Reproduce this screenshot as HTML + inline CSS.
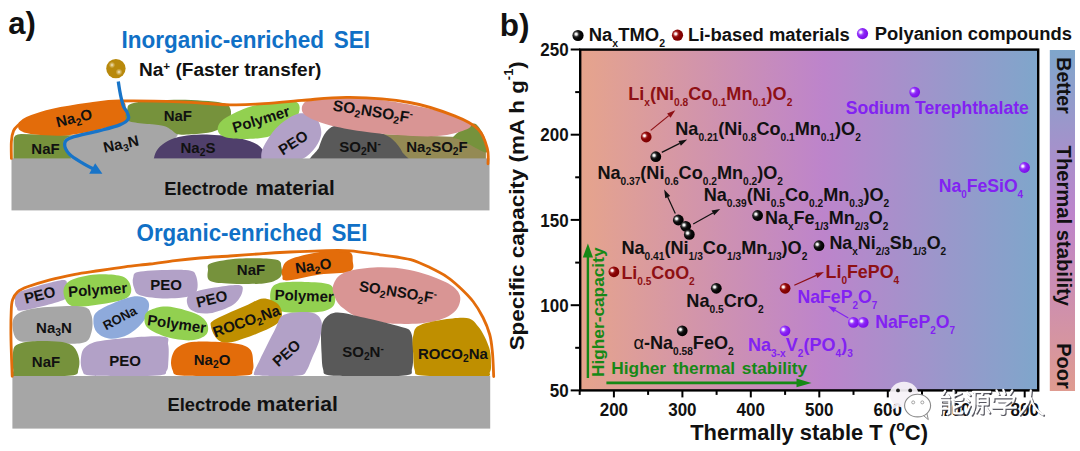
<!DOCTYPE html>
<html><head><meta charset="utf-8"><title>SEI and thermal stability</title>
<style>
html,body{margin:0;padding:0;background:#fff;}
body{width:1080px;height:451px;overflow:hidden;font-family:"Liberation Sans",sans-serif;}
svg{display:block;font-family:"Liberation Sans",sans-serif;font-weight:bold;}
.b{fill:#111;}
.lb{fill:#111;text-anchor:middle;}
.tk{font-size:15.5px;fill:#111;}
</style></head><body>
<svg width="1080" height="451" viewBox="0 0 1080 451">
<defs>
<linearGradient id="gh" x1="0" y1="0" x2="1" y2="0">
<stop offset="0" stop-color="#e6a48c"/><stop offset="0.53" stop-color="#bd84cb"/><stop offset="1" stop-color="#7fa6cb"/>
</linearGradient>
<linearGradient id="gv" x1="0" y1="0" x2="0" y2="1">
<stop offset="0" stop-color="#7fa6cb"/><stop offset="0.48" stop-color="#bd84cb"/><stop offset="1" stop-color="#df9b90"/>
</linearGradient>
<radialGradient id="sK" cx="0.34" cy="0.38" r="0.62"><stop offset="0" stop-color="#fff"/><stop offset="0.14" stop-color="#f0f0f0"/><stop offset="0.36" stop-color="#3a3a3a"/><stop offset="0.55" stop-color="#0c0c0c"/><stop offset="1" stop-color="#000"/></radialGradient>
<radialGradient id="sR" cx="0.34" cy="0.38" r="0.62"><stop offset="0" stop-color="#fff"/><stop offset="0.14" stop-color="#fbeaea"/><stop offset="0.36" stop-color="#a82a2a"/><stop offset="0.55" stop-color="#8b0505"/><stop offset="1" stop-color="#7d0000"/></radialGradient>
<radialGradient id="sP" cx="0.34" cy="0.38" r="0.62"><stop offset="0" stop-color="#fff"/><stop offset="0.14" stop-color="#f3e6ff"/><stop offset="0.36" stop-color="#a050ff"/><stop offset="0.55" stop-color="#8a22f5"/><stop offset="1" stop-color="#7c10ea"/></radialGradient>
<radialGradient id="hl"><stop offset="0" stop-color="#fff" stop-opacity="0.85"/><stop offset="0.45" stop-color="#fff3d0" stop-opacity="0.45"/><stop offset="1" stop-color="#fff" stop-opacity="0"/></radialGradient>
</defs>
<rect width="1080" height="451" fill="#fff"/>

<!-- ============ PANEL A ============ -->
<g id="panelA">
<text x="8.2" y="34" font-size="31" class="b">a)</text>
<text x="121.5" y="47.8" font-size="24" fill="#1070c6" textLength="248.5" lengthAdjust="spacingAndGlyphs" xml:space="preserve">Inorganic-enriched <tspan font-size="13"> </tspan>SEI</text>
<text x="136.5" y="240.6" font-size="24" fill="#1070c6" textLength="231" lengthAdjust="spacingAndGlyphs" xml:space="preserve">Organic-enriched <tspan font-size="13"> </tspan>SEI</text>
<g>
<path d="M13.5,162.3 L13.5,139.9 Q13.5,133.9 21.0,133.9 L77.8,135.4 L77.8,162.3 Z" fill="#76923c"/>
<path d="M78.4,169.8C64.9,168.2 73.0,161.3 70.6,157.2C68.2,153.1 64.5,148.6 64.1,145.3C63.7,141.9 62.5,139.6 68.2,136.9C74.0,134.2 89.0,131.8 98.8,129.1C108.6,126.4 118.7,121.8 127.2,120.7C135.7,119.7 142.9,122.0 149.7,122.8C156.4,123.7 162.9,123.9 167.6,125.8C172.3,127.7 178.6,130.7 177.8,134.5C177.1,138.2 167.4,142.9 163.1,148.2C158.8,153.6 166.2,163.2 152.1,166.8C137.9,170.4 92.0,171.4 78.4,169.8Z" fill="#a6a6a6"/>
<path d="M18.6,124.9C19.6,122.8 21.1,120.8 26.9,118.3C32.8,115.8 43.4,112.3 53.9,109.9C64.4,107.5 78.6,105.4 89.8,103.9C101.0,102.5 115.2,100.0 121.2,101.0C127.2,102.0 125.1,106.5 125.7,109.9C126.4,113.3 129.6,118.1 125.1,121.3C120.6,124.6 108.7,127.0 98.8,129.4C88.9,131.7 76.3,134.5 65.9,135.4C55.4,136.2 43.4,135.2 35.9,134.5C28.4,133.7 23.8,132.5 21.0,130.9C18.1,129.3 17.6,127.0 18.6,124.9Z" fill="#e36c0a"/>
<path d="M127.2,109.9C128.2,106.9 126.0,104.4 134.7,102.7C143.4,101.1 165.1,99.8 179.6,99.8C194.1,99.8 213.0,101.2 221.5,102.7C230.0,104.3 229.2,106.4 230.5,109.3C231.7,112.3 231.0,117.1 229.0,120.4C227.0,123.8 222.8,127.2 218.5,129.4C214.3,131.5 210.0,132.4 203.5,133.3C197.1,134.1 185.1,135.1 179.6,134.5C174.1,133.8 173.6,130.9 170.6,129.4C167.6,127.9 168.6,126.9 161.6,125.5C154.7,124.1 134.5,123.6 128.7,121.0C123.0,118.4 126.2,113.0 127.2,109.9Z" fill="#76923c"/>
<path d="M153.6,169.8C135.3,167.9 153.1,161.9 153.9,158.4C154.6,154.9 155.7,151.8 158.0,148.8C160.4,145.9 164.1,142.9 168.2,140.8C172.3,138.7 176.7,137.3 182.6,136.3C188.5,135.2 195.1,134.4 203.5,134.5C212.0,134.6 225.0,135.5 233.5,136.9C242.0,138.3 249.4,140.6 254.4,142.9C259.4,145.2 261.7,148.0 263.4,150.6C265.1,153.2 264.6,155.2 264.6,158.4C264.6,161.6 281.9,167.9 263.4,169.8C244.9,171.7 171.8,171.7 153.6,169.8Z" fill="#4f3f6b"/>
<path d="M217.6,129.1C217.8,126.6 218.5,123.5 222.1,120.4C225.7,117.4 233.2,113.5 239.5,110.8C245.8,108.1 252.8,105.7 259.8,104.2C266.8,102.7 275.5,102.3 281.4,101.9C287.2,101.4 291.8,100.7 294.8,101.6C297.9,102.4 299.4,104.1 299.6,106.9C299.9,109.7 298.9,114.5 296.3,118.3C293.8,122.1 289.2,126.6 284.4,129.7C279.5,132.8 273.9,135.3 267.3,136.9C260.7,138.4 251.2,138.8 244.9,139.0C238.5,139.2 233.0,138.7 229.0,138.1C225.0,137.4 222.8,136.6 220.9,135.1C219.0,133.6 217.4,131.5 217.6,129.1Z" fill="#92d050"/>
<path d="M379.7,133.9 L457.5,136.9 L485.9,150.3 L485.9,162.3 L379.7,162.3 Z" fill="#948a54"/>
<path d="M453.0,137.5C453.5,135.8 458.5,131.7 462.0,129.4C465.5,127.0 470.7,123.2 474.0,123.4C477.2,123.7 479.4,127.6 481.4,130.9C483.5,134.1 485.4,139.3 486.2,142.9C487.0,146.5 489.0,152.2 486.2,152.4C483.4,152.7 474.0,146.6 469.5,144.4C464.9,142.2 461.7,140.4 459.0,139.3C456.2,138.1 452.5,139.1 453.0,137.5Z" fill="#76923c"/>
<path d="M313.8,166.8C299.4,163.6 316.8,153.2 318.9,147.4C321.0,141.5 323.1,135.2 326.4,131.5C329.6,127.7 333.0,125.5 338.4,124.9C343.7,124.3 351.6,126.5 358.7,127.9C365.8,129.3 375.4,131.3 381.2,133.3C386.9,135.3 389.6,136.8 393.1,139.9C396.6,143.0 400.1,147.4 402.1,151.8C404.1,156.3 419.8,164.3 405.1,166.8C390.4,169.3 328.2,170.0 313.8,166.8Z" fill="#595959"/>
<path d="M261.4,153.3C261.9,149.3 264.4,144.6 267.4,139.9C270.4,135.1 274.2,129.3 279.4,124.9C284.6,120.5 292.9,114.8 298.8,113.5C304.8,112.3 311.6,114.3 315.3,117.4C319.1,120.6 321.3,127.4 321.3,132.4C321.3,137.4 318.6,142.9 315.3,147.4C312.1,151.8 307.6,156.3 301.8,159.3C296.1,162.3 287.1,164.6 280.9,165.3C274.7,166.1 267.7,165.8 264.4,163.8C261.2,161.8 260.9,157.3 261.4,153.3Z" fill="#b2a1c7"/>
<path d="M301.8,108.4C301.9,105.7 303.3,102.1 307.8,100.4C312.3,98.6 320.8,98.5 328.8,98.0C336.8,97.5 346.2,97.0 355.7,97.4C365.2,97.8 374.7,98.8 385.7,100.4C396.6,102.0 410.6,104.6 421.6,106.9C432.5,109.3 443.3,111.4 451.5,114.4C459.7,117.4 470.0,121.9 471.0,124.9C472.0,127.9 463.7,130.5 457.5,132.4C451.3,134.3 443.5,135.8 433.5,136.3C423.6,136.7 409.6,135.9 397.6,135.1C385.7,134.2 373.2,132.9 361.7,131.2C350.2,129.5 337.9,127.3 328.8,124.9C319.7,122.5 311.7,119.3 307.2,116.5C302.7,113.8 301.7,111.1 301.8,108.4Z" fill="#d99594"/>
</g>
<rect x="11.5" y="158.4" width="478" height="52" fill="#a6a6a6"/>
<text x="164.3" y="195.3" font-size="18.4" class="b" textLength="83.7" lengthAdjust="spacingAndGlyphs">Electrode</text><text x="255.5" y="195.3" font-size="20.6" class="b" textLength="79.2" lengthAdjust="spacingAndGlyphs">material</text>
<path d="M11.4,158.4C11.4,155.6 11.0,146.0 11.4,141.4C11.7,136.8 12.3,133.6 13.5,130.9C14.7,128.1 16.3,127.0 18.6,124.9C20.8,122.8 21.1,120.8 26.9,118.3C32.8,115.8 43.4,112.3 53.9,109.9C64.4,107.5 78.8,105.4 89.8,103.9C100.8,102.5 104.8,101.3 119.7,101.0C134.7,100.6 161.2,101.2 179.6,101.9C198.0,102.5 216.5,104.5 229.9,104.8C243.3,105.2 247.9,104.7 259.9,103.9C271.9,103.2 286.9,101.5 301.8,100.4C316.8,99.3 331.8,97.0 349.7,97.4C367.7,97.7 392.1,99.4 409.6,102.5C427.1,105.5 443.0,111.4 454.5,115.9C466.0,120.4 473.0,123.9 478.4,129.4C483.9,134.9 485.8,143.1 487.4,148.8C489.0,154.6 487.9,161.3 488.0,163.8" fill="none" stroke="#e36c0a" stroke-width="2.8" stroke-linecap="round"/>
<path d="M118.3,81.6C118.5,83.0 119.1,87.1 119.6,90.0C120.1,92.9 120.7,96.2 121.4,99.0C122.1,101.8 122.8,104.8 123.8,107.0C124.8,109.2 126.5,110.5 127.2,112.5C128.0,114.5 129.5,116.9 128.3,119.0C127.1,121.1 124.7,122.9 119.7,124.9C114.8,126.9 106.8,128.8 98.8,130.9C90.8,133.0 77.5,135.4 71.8,137.5C66.2,139.6 65.1,140.7 64.7,143.5C64.3,146.3 66.3,150.8 69.4,154.2C72.6,157.6 79.5,161.2 83.8,163.8C88.1,166.4 93.3,168.8 95.2,169.8" fill="none" stroke="#1874c8" stroke-width="3.3"/>
<path d="M102.4,173.7 L95.2,163.2 L89.2,173.7 Z" fill="#1874c8"/>
<circle cx="115.9" cy="68.6" r="9.7" fill="#b8890c"/><circle cx="112" cy="65" r="3.2" fill="url(#hl)"/><circle cx="119" cy="72" r="3.4" fill="url(#hl)"/>
<text x="139" y="75.5" font-size="18" class="b" textLength="182.4" lengthAdjust="spacingAndGlyphs">Na<tspan font-size="11" dy="-6">+</tspan><tspan dy="6"> (Faster transfer)</tspan></text>
<text x="75.3" y="123" class="lb" font-size="15" transform="rotate(-14 75.3 123)">Na<tspan font-size="10.3" dy="3.2">2</tspan><tspan dy="-3.2">&#8203;</tspan>O</text>
<text x="45.5" y="153.8" class="lb" font-size="15">NaF</text>
<text x="122" y="149" class="lb" font-size="15" transform="rotate(-12 122 149)">Na<tspan font-size="10.3" dy="3.2">3</tspan><tspan dy="-3.2">&#8203;</tspan>N</text>
<text x="177.8" y="120.6" class="lb" font-size="15">NaF</text>
<text x="198" y="153" class="lb" font-size="15">Na<tspan font-size="10.3" dy="3.2">2</tspan><tspan dy="-3.2">&#8203;</tspan>S</text>
<text x="262.5" y="124.3" class="lb" font-size="15" transform="rotate(-17 262.5 124.3)">Polymer</text>
<text x="296" y="147" class="lb" font-size="15" transform="rotate(-33 296 147)">PEO</text>
<text x="372" y="116.7" class="lb" font-size="15.5" transform="rotate(9 372 116.7)">SO<tspan font-size="10.3" dy="3.2">2</tspan><tspan dy="-3.2">&#8203;</tspan>NSO<tspan font-size="10.3" dy="3.2">2</tspan><tspan dy="-3.2">&#8203;</tspan>F<tspan font-size="10" dy="-5.5">-</tspan></text>
<text x="360" y="152" class="lb" font-size="15">SO<tspan font-size="10.3" dy="3.2">2</tspan><tspan dy="-3.2">&#8203;</tspan>N<tspan font-size="10" dy="-5.5">-</tspan></text>
<text x="437" y="152" class="lb" font-size="15">Na<tspan font-size="10.3" dy="3.2">2</tspan><tspan dy="-3.2">&#8203;</tspan>SO<tspan font-size="10.3" dy="3.2">2</tspan><tspan dy="-3.2">&#8203;</tspan>F</text>
<g>
<path d="M15.0,299.9C15.2,297.4 10.5,295.6 18.0,292.4C25.4,289.1 51.6,281.7 59.9,280.4C68.1,279.2 66.3,281.9 67.4,284.9C68.4,287.9 73.7,294.1 66.5,298.4C59.2,302.6 32.3,308.8 23.9,310.3C15.6,311.8 18.0,309.1 16.5,307.4C15.0,305.6 14.7,302.4 15.0,299.9Z" fill="#b2a1c7"/>
<path d="M63.5,292.4C63.2,288.1 65.0,283.4 70.3,280.4C75.7,277.4 87.1,275.1 95.8,274.4C104.5,273.8 116.8,274.3 122.7,276.5C128.6,278.8 130.6,284.3 131.1,287.9C131.6,291.5 131.1,295.6 125.7,298.4C120.3,301.1 107.8,303.1 98.8,304.4C89.8,305.6 77.7,307.8 71.8,305.9C66.0,303.9 63.7,296.6 63.5,292.4Z" fill="#92d050"/>
<path d="M133.2,277.4C134.3,274.7 132.0,272.7 140.7,271.4C149.4,270.2 176.4,269.2 185.6,269.9C194.8,270.7 194.6,271.9 196.1,275.9C197.6,279.9 199.3,290.1 194.6,293.9C189.8,297.6 176.6,298.1 167.6,298.4C158.6,298.6 146.3,297.1 140.7,295.4C135.1,293.6 135.3,290.9 134.1,287.9C132.9,284.9 132.1,280.2 133.2,277.4Z" fill="#b2a1c7"/>
<path d="M187.1,298.4C188.1,295.1 189.3,293.1 197.6,290.9C205.8,288.6 229.0,284.9 236.5,284.9C244.0,284.9 243.0,287.6 242.5,290.9C242.0,294.1 239.0,300.6 233.5,304.4C228.0,308.1 216.5,312.3 209.5,313.3C202.5,314.3 195.3,312.8 191.6,310.3C187.8,307.8 186.1,301.6 187.1,298.4Z" fill="#b2a1c7"/>
<path d="M208.0,269.9C208.3,267.1 205.8,265.2 211.0,263.3C216.3,261.5 228.7,259.2 239.5,258.6C250.2,257.9 268.4,258.1 275.4,259.5C282.4,260.9 280.6,263.9 281.4,266.9C282.1,269.9 282.9,274.7 279.9,277.4C276.9,280.2 272.1,282.4 263.4,283.4C254.7,284.4 236.5,283.9 227.5,283.4C218.5,282.9 212.8,282.7 209.5,280.4C206.3,278.2 207.8,272.8 208.0,269.9Z" fill="#76923c"/>
<path d="M282.4,268.4C283.6,265.7 283.6,262.2 289.9,259.5C296.1,256.7 310.1,253.3 319.8,252.0C329.5,250.6 342.7,249.9 348.2,251.4C353.7,252.9 352.5,257.6 352.7,261.0C353.0,264.3 355.2,269.2 349.7,271.4C344.2,273.7 330.3,272.9 319.8,274.4C309.3,275.9 293.1,280.2 286.9,280.4C280.6,280.7 283.1,277.9 282.4,275.9C281.6,273.9 281.1,271.2 282.4,268.4Z" fill="#e36c0a"/>
<path d="M270.4,292.4C271.2,288.4 272.2,285.1 277.9,283.4C283.6,281.7 296.4,281.8 304.8,281.9C313.3,282.1 323.8,282.3 328.8,284.3C333.8,286.3 334.0,290.3 334.8,293.9C335.5,297.5 335.8,302.9 333.3,305.9C330.8,308.8 327.0,310.7 319.8,311.8C312.6,312.9 297.6,313.2 289.9,312.4C282.1,311.7 276.6,310.7 273.4,307.4C270.2,304.0 269.7,296.4 270.4,292.4Z" fill="#92d050"/>
<path d="M333.3,284.9C334.8,280.9 337.0,275.8 343.7,272.9C350.5,270.0 362.7,268.0 373.7,267.5C384.7,267.0 397.6,267.5 409.6,269.9C421.6,272.3 437.1,277.7 445.5,281.9C453.9,286.1 458.4,290.4 459.9,295.4C461.4,300.4 458.9,307.5 454.5,311.8C450.1,316.2 443.0,319.4 433.5,321.4C424.1,323.4 409.6,324.3 397.6,323.8C385.7,323.3 370.9,321.2 361.7,318.4C352.5,315.7 346.7,310.9 342.3,307.4C337.8,303.8 336.3,300.6 334.8,296.9C333.3,293.1 331.8,288.9 333.3,284.9Z" fill="#d99594"/>
<path d="M211.0,326.8C210.5,323.3 209.3,323.1 215.5,319.3C221.8,315.6 240.5,307.8 248.4,304.4C256.4,300.9 258.4,298.4 263.4,298.4C268.4,298.4 275.4,301.1 278.4,304.4C281.4,307.6 282.9,313.8 281.4,317.8C279.9,321.8 277.4,324.3 269.4,328.3C261.4,332.3 242.0,339.8 233.5,341.8C225.0,343.8 222.3,342.8 218.5,340.3C214.8,337.8 211.5,330.3 211.0,326.8Z" fill="#bf8f00"/>
<path d="M93.4,320.8C93.6,317.1 93.4,314.1 98.8,310.3C104.2,306.6 118.5,300.6 125.7,298.4C133.0,296.1 138.3,295.9 142.2,296.9C146.1,297.9 148.8,300.4 149.1,304.4C149.3,308.3 147.1,315.8 143.7,320.8C140.3,325.8 134.2,331.3 128.7,334.3C123.2,337.3 116.0,339.0 110.8,338.8C105.5,338.5 100.2,335.8 97.3,332.8C94.4,329.8 93.1,324.6 93.4,320.8Z" fill="#8eaadb"/>
<path d="M144.6,317.8C144.8,314.8 145.8,312.2 149.7,310.3C153.5,308.4 160.1,306.0 167.6,306.5C175.1,307.0 188.1,310.7 194.6,313.3C201.1,316.0 204.5,318.8 206.5,322.3C208.5,325.8 209.0,331.3 206.5,334.3C204.0,337.3 198.1,339.8 191.6,340.3C185.1,340.8 174.9,339.3 167.6,337.3C160.4,335.3 152.0,331.5 148.2,328.3C144.3,325.1 144.3,320.8 144.6,317.8Z" fill="#92d050"/>
<path d="M12.6,326.8C12.3,322.6 12.6,317.9 16.5,314.8C20.4,311.7 25.2,309.6 35.9,308.2C46.6,306.9 71.6,305.4 80.8,306.5C90.0,307.5 89.6,310.4 91.3,314.8C93.0,319.2 93.0,328.1 91.3,332.8C89.6,337.5 90.0,341.8 80.8,343.3C71.6,344.8 46.4,342.3 35.9,341.8C25.4,341.3 21.9,342.8 18.0,340.3C14.1,337.8 12.8,331.0 12.6,326.8Z" fill="#a6a6a6"/>
<path d="M13.2,350.8C14.0,346.4 14.7,345.8 18.0,344.2C21.3,342.6 25.9,341.6 32.9,341.2C39.9,340.8 53.1,340.9 59.9,341.8C66.6,342.7 70.1,343.8 73.3,346.6C76.5,349.3 78.2,354.4 79.0,358.2C79.9,362.0 79.3,366.5 78.4,369.3C77.5,372.2 79.2,374.2 73.6,375.3C68.0,376.4 54.8,376.0 44.9,376.2C35.0,376.4 19.7,377.5 14.4,376.5C9.1,375.5 13.4,374.5 13.2,370.2C13.0,365.9 12.4,355.1 13.2,350.8Z" fill="#76923c"/>
<path d="M80.8,359.7C81.3,355.7 81.3,350.4 85.3,347.2C89.3,343.9 92.0,342.1 104.8,340.3C117.5,338.5 151.1,335.6 161.6,336.4C172.2,337.1 167.1,340.1 168.2,344.8C169.3,349.4 168.5,359.8 168.2,364.2C167.9,368.6 167.7,369.3 166.4,371.1C165.1,373.0 168.2,374.5 160.4,375.3C152.7,376.1 131.7,376.2 119.7,376.2C107.8,376.2 94.8,376.1 88.6,375.3C82.4,374.5 83.9,373.7 82.6,371.1C81.3,368.5 80.4,363.7 80.8,359.7Z" fill="#b2a1c7"/>
<path d="M171.2,359.7C172.0,355.9 173.3,350.8 177.2,347.8C181.1,344.8 185.2,342.5 194.6,341.8C203.9,341.0 224.3,342.0 233.5,343.3C242.7,344.5 246.7,346.0 249.9,349.3C253.2,352.5 252.8,359.2 253.2,362.7C253.7,366.3 253.6,368.4 252.6,370.5C251.6,372.6 254.4,374.4 247.3,375.3C240.1,376.2 221.0,376.2 209.5,376.2C198.1,376.2 184.5,376.2 178.4,375.3C172.3,374.4 173.9,373.1 172.7,370.5C171.5,367.9 170.5,363.5 171.2,359.7Z" fill="#e36c0a"/>
<path d="M253.9,373.2C254.3,370.6 256.4,367.0 259.9,359.7C263.4,352.5 270.9,337.3 274.9,329.8C278.9,322.3 277.9,317.7 283.9,314.8C289.9,311.9 304.6,311.4 310.8,312.4C317.1,313.4 319.8,316.4 321.3,320.8C322.8,325.2 321.4,332.3 319.8,338.8C318.2,345.3 313.6,354.4 311.4,359.7C309.2,365.0 308.4,367.9 306.6,370.5C304.8,373.1 305.9,374.4 300.6,375.3C295.4,376.2 282.1,376.2 274.9,376.2C267.7,376.2 261.0,375.8 257.5,375.3C254.0,374.8 253.5,375.8 253.9,373.2Z" fill="#b2a1c7"/>
<path d="M321.3,329.8C322.0,323.8 323.0,320.7 325.8,317.8C328.5,314.9 331.3,312.4 337.8,312.4C344.2,312.4 354.2,315.4 364.7,317.8C375.2,320.2 392.9,324.3 400.6,326.8C408.4,329.3 409.0,328.3 411.1,332.8C413.2,337.3 413.0,347.8 413.2,353.7C413.3,359.7 413.1,365.1 412.0,368.7C410.9,372.3 414.5,374.1 406.6,375.3C398.7,376.5 377.7,376.2 364.7,376.2C351.7,376.2 335.7,376.4 328.8,375.3C321.8,374.2 324.3,372.9 323.1,369.3C321.9,365.7 321.9,360.3 321.6,353.7C321.3,347.2 320.6,335.8 321.3,329.8Z" fill="#595959"/>
<path d="M413.2,335.8C414.6,330.9 413.2,327.4 421.6,324.4C430.0,321.4 454.0,317.4 463.5,317.8C473.0,318.2 474.2,321.8 478.4,326.8C482.7,331.8 487.1,341.3 489.2,347.8C491.3,354.2 490.9,361.6 491.0,365.7C491.1,369.8 490.6,370.5 489.8,372.3C489.0,374.1 492.6,375.8 486.2,376.5C479.8,377.2 462.6,376.7 451.5,376.5C440.4,376.3 425.9,376.4 419.8,375.3C413.6,374.2 415.8,373.5 414.7,369.9C413.6,366.3 413.4,359.4 413.2,353.7C412.9,348.1 411.8,340.7 413.2,335.8Z" fill="#bf8f00"/>
</g>
<rect x="12.4" y="376" width="477.8" height="52.6" fill="#a6a6a6"/>
<text x="167.4" y="411.4" font-size="18.4" class="b" textLength="83.7" lengthAdjust="spacingAndGlyphs">Electrode</text><text x="256.6" y="411.4" font-size="20.8" class="b" textLength="81.2" lengthAdjust="spacingAndGlyphs">material</text>
<path d="M12.2,376.3C12.0,370.2 11.2,350.7 11.0,340.0C10.8,329.3 10.9,318.7 11.2,312.0C11.4,305.3 11.4,303.3 12.5,300.0C13.6,296.7 15.0,294.2 17.5,292.0C20.0,289.8 22.1,288.8 27.5,286.8C32.9,284.8 42.1,281.9 50.0,279.8C57.9,277.7 66.7,275.9 75.0,274.3C83.3,272.8 91.7,271.8 100.0,270.5C108.3,269.2 116.7,267.9 125.0,266.8C133.3,265.7 141.7,265.0 150.0,264.0C158.3,263.0 166.7,261.6 175.0,260.6C183.3,259.6 190.8,258.8 200.0,258.0C209.2,257.2 220.0,256.7 230.0,256.0C240.0,255.3 250.0,254.5 260.0,253.8C270.0,253.1 280.0,252.5 290.0,252.0C300.0,251.5 310.0,251.0 320.0,250.8C330.0,250.6 340.0,250.1 350.0,250.8C360.0,251.5 372.2,253.8 380.0,254.8C387.8,255.8 391.1,256.1 396.6,257.0C402.1,257.9 407.6,258.5 413.2,260.3C418.8,262.1 424.3,264.9 429.9,267.6C435.4,270.3 441.5,273.3 446.5,276.6C451.5,279.9 455.4,283.4 459.8,287.5C464.2,291.6 469.2,296.5 473.1,301.5C477.0,306.5 480.2,312.0 483.0,317.5C485.8,323.0 488.1,328.8 489.7,334.5C491.3,340.2 491.7,345.0 492.4,352.0C493.1,359.0 493.5,372.4 493.7,376.5" fill="none" stroke="#e36c0a" stroke-width="2.8" stroke-linecap="round"/>
<text x="41" y="300" class="lb" font-size="15" transform="rotate(-14 41 300)">PEO</text>
<text x="98" y="295" class="lb" font-size="15" transform="rotate(-4 98 295)">Polymer</text>
<text x="166" y="290" class="lb" font-size="15">PEO</text>
<text x="213" y="304" class="lb" font-size="15" transform="rotate(-14 213 304)">PEO</text>
<text x="251" y="275" class="lb" font-size="15">NaF</text>
<text x="314" y="271" class="lb" font-size="15" transform="rotate(-8 314 271)">Na<tspan font-size="10.3" dy="3.2">2</tspan><tspan dy="-3.2">&#8203;</tspan>O</text>
<text x="304" y="301" class="lb" font-size="15" transform="rotate(2 304 301)">Polymer</text>
<text x="397" y="297" class="lb" font-size="15" transform="rotate(9 397 297)">SO<tspan font-size="10.3" dy="3.2">2</tspan><tspan dy="-3.2">&#8203;</tspan>NSO<tspan font-size="10.3" dy="3.2">2</tspan><tspan dy="-3.2">&#8203;</tspan>F<tspan font-size="10" dy="-5.5">-</tspan></text>
<text x="54" y="333" class="lb" font-size="15">Na<tspan font-size="10.3" dy="3.2">3</tspan><tspan dy="-3.2">&#8203;</tspan>N</text>
<text x="122" y="322" class="lb" font-size="13" transform="rotate(-28 122 322)">RONa</text>
<text x="176" y="329" class="lb" font-size="15" transform="rotate(8 176 329)">Polymer</text>
<text x="248" y="326" class="lb" font-size="15" transform="rotate(-19 248 326)">ROCO<tspan font-size="10.3" dy="3.2">2</tspan><tspan dy="-3.2">&#8203;</tspan>Na</text>
<text x="46" y="367" class="lb" font-size="15">NaF</text>
<text x="125" y="366" class="lb" font-size="15">PEO</text>
<text x="212" y="365" class="lb" font-size="15">Na<tspan font-size="10.3" dy="3.2">2</tspan><tspan dy="-3.2">&#8203;</tspan>O</text>
<text x="290" y="357" class="lb" font-size="15" transform="rotate(-42 290 357)">PEO</text>
<text x="363" y="357" class="lb" font-size="15">SO<tspan font-size="10.3" dy="3.2">2</tspan><tspan dy="-3.2">&#8203;</tspan>N<tspan font-size="10" dy="-5.5">-</tspan></text>
<text x="453" y="359" class="lb" font-size="15">ROCO<tspan font-size="10.3" dy="3.2">2</tspan><tspan dy="-3.2">&#8203;</tspan>Na</text>
</g>

<!-- ============ PANEL B ============ -->
<g id="panelB">
<text x="499.8" y="36.2" font-size="31.5" class="b">b)</text>
<rect x="580.2" y="49.6" width="458" height="340.8" fill="url(#gh)"/>
<rect x="1049.8" y="50" width="25.2" height="341" fill="url(#gv)"/>
<rect x="580.2" y="49.6" width="458" height="340.8" fill="none" stroke="#000" stroke-width="2.4"/>
<line x1="570.7" y1="390.4" x2="580.2" y2="390.4" stroke="#000" stroke-width="2"/>
<line x1="575.2" y1="347.8" x2="580.2" y2="347.8" stroke="#000" stroke-width="2"/>
<line x1="570.7" y1="305.2" x2="580.2" y2="305.2" stroke="#000" stroke-width="2"/>
<line x1="575.2" y1="262.6" x2="580.2" y2="262.6" stroke="#000" stroke-width="2"/>
<line x1="570.7" y1="219.9" x2="580.2" y2="219.9" stroke="#000" stroke-width="2"/>
<line x1="575.2" y1="177.3" x2="580.2" y2="177.3" stroke="#000" stroke-width="2"/>
<line x1="570.7" y1="134.7" x2="580.2" y2="134.7" stroke="#000" stroke-width="2"/>
<line x1="575.2" y1="92.1" x2="580.2" y2="92.1" stroke="#000" stroke-width="2"/>
<line x1="570.7" y1="49.5" x2="580.2" y2="49.5" stroke="#000" stroke-width="2"/>
<line x1="579.7" y1="390.4" x2="579.7" y2="394.9" stroke="#000" stroke-width="2"/>
<line x1="613.9" y1="390.4" x2="613.9" y2="397.4" stroke="#000" stroke-width="2"/>
<line x1="648.1" y1="390.4" x2="648.1" y2="394.9" stroke="#000" stroke-width="2"/>
<line x1="682.4" y1="390.4" x2="682.4" y2="397.4" stroke="#000" stroke-width="2"/>
<line x1="716.6" y1="390.4" x2="716.6" y2="394.9" stroke="#000" stroke-width="2"/>
<line x1="750.8" y1="390.4" x2="750.8" y2="397.4" stroke="#000" stroke-width="2"/>
<line x1="785.1" y1="390.4" x2="785.1" y2="394.9" stroke="#000" stroke-width="2"/>
<line x1="819.3" y1="390.4" x2="819.3" y2="397.4" stroke="#000" stroke-width="2"/>
<line x1="853.5" y1="390.4" x2="853.5" y2="394.9" stroke="#000" stroke-width="2"/>
<line x1="887.8" y1="390.4" x2="887.8" y2="397.4" stroke="#000" stroke-width="2"/>
<line x1="922.0" y1="390.4" x2="922.0" y2="394.9" stroke="#000" stroke-width="2"/>
<line x1="956.2" y1="390.4" x2="956.2" y2="397.4" stroke="#000" stroke-width="2"/>
<line x1="990.5" y1="390.4" x2="990.5" y2="394.9" stroke="#000" stroke-width="2"/>
<line x1="1024.7" y1="390.4" x2="1024.7" y2="397.4" stroke="#000" stroke-width="2"/>
<text x="568.6" y="397.0" font-size="18" fill="#111" text-anchor="end" textLength="18.9" lengthAdjust="spacingAndGlyphs">50</text>
<text x="568.6" y="311.8" font-size="18" fill="#111" text-anchor="end" textLength="28.35" lengthAdjust="spacingAndGlyphs">100</text>
<text x="568.6" y="226.5" font-size="18" fill="#111" text-anchor="end" textLength="28.35" lengthAdjust="spacingAndGlyphs">150</text>
<text x="568.6" y="141.3" font-size="18" fill="#111" text-anchor="end" textLength="28.35" lengthAdjust="spacingAndGlyphs">200</text>
<text x="568.6" y="56.1" font-size="18" fill="#111" text-anchor="end" textLength="28.35" lengthAdjust="spacingAndGlyphs">250</text>
<text x="613.9" y="415.8" font-size="18" fill="#111" text-anchor="middle" textLength="28.4" lengthAdjust="spacingAndGlyphs">200</text>
<text x="682.4" y="415.8" font-size="18" fill="#111" text-anchor="middle" textLength="28.4" lengthAdjust="spacingAndGlyphs">300</text>
<text x="750.8" y="415.8" font-size="18" fill="#111" text-anchor="middle" textLength="28.4" lengthAdjust="spacingAndGlyphs">400</text>
<text x="819.3" y="415.8" font-size="18" fill="#111" text-anchor="middle" textLength="28.4" lengthAdjust="spacingAndGlyphs">500</text>
<text x="887.8" y="415.8" font-size="18" fill="#111" text-anchor="middle" textLength="28.4" lengthAdjust="spacingAndGlyphs">600</text>
<text x="956.2" y="415.8" font-size="18" fill="#111" text-anchor="middle" textLength="28.4" lengthAdjust="spacingAndGlyphs">700</text>
<text x="1024.7" y="415.8" font-size="18" fill="#111" text-anchor="middle" textLength="28.4" lengthAdjust="spacingAndGlyphs">800</text>
<text x="690.2" y="439.6" font-size="22.3" fill="#111" textLength="237.8" lengthAdjust="spacingAndGlyphs">Thermally stable T (<tspan font-size="14.5" dy="-9">o</tspan><tspan dy="9">C)</tspan></text>
<text transform="translate(524 350.3) rotate(-90)" font-size="21" fill="#111" textLength="289" lengthAdjust="spacingAndGlyphs">Specific capacity (mA h g<tspan font-size="12" dy="-11.5">-1</tspan><tspan dy="11.5">)</tspan></text>
<circle cx="578" cy="35.5" r="5.6" fill="url(#sK)"/>
<text x="588.8" y="40.6" font-size="17.6" fill="#111" textLength="76.2" lengthAdjust="spacingAndGlyphs">Na<tspan font-size="10" dy="6">x</tspan><tspan dy="-6">TMO</tspan><tspan font-size="10" dy="6">2</tspan></text>
<circle cx="677.5" cy="35.2" r="5.6" fill="url(#sR)"/>
<text x="688" y="40.6" font-size="17.6" fill="#111" textLength="161.8" lengthAdjust="spacingAndGlyphs">Li-based materials</text>
<circle cx="862.5" cy="33.6" r="5.6" fill="url(#sP)"/>
<text x="874.8" y="39.6" font-size="17.6" fill="#111" textLength="197.2" lengthAdjust="spacingAndGlyphs">Polyanion compounds</text>
<text transform="translate(1056.9 57.3) rotate(90)" font-size="20" fill="#111" textLength="56.5" lengthAdjust="spacingAndGlyphs">Better</text>
<text transform="translate(1056.9 145.6) rotate(90)" font-size="20" fill="#111" textLength="160.5" lengthAdjust="spacingAndGlyphs" xml:space="preserve">Thermal stability</text>
<text transform="translate(1056.9 343.2) rotate(90)" font-size="20" fill="#111" textLength="45.5" lengthAdjust="spacingAndGlyphs">Poor</text>
<line x1="587.9" y1="378" x2="587.9" y2="255" stroke="#168816" stroke-width="2.4"/>
<path d="M587.9,243.5 L593,257.5 L582.8,257.5 Z" fill="#168816"/>
<line x1="606.4" y1="382.9" x2="798" y2="382.9" stroke="#168816" stroke-width="2.6"/>
<path d="M811.5,382.9 L796.5,378.6 L796.5,387.2 Z" fill="#168816"/>
<text transform="translate(604.4 377) rotate(-90)" font-size="17.2" fill="#168816" textLength="129.5" lengthAdjust="spacingAndGlyphs">Higher-capacity</text>
<text x="611.3" y="374" font-size="17.3" fill="#168816" word-spacing="1.9">Higher thermal stability</text>
<line x1="650.7" y1="130.4" x2="668.8" y2="115.6" stroke="#8e1014" stroke-width="1.2"/><path d="M675.3,110.3 L670.5,117.7 L667.1,113.5 Z" fill="#8e1014"/>
<circle cx="646.2" cy="137" r="5.4" fill="url(#sR)"/>
<text x="628.3" y="100.4" font-size="17.8" fill="#8e1014" textLength="164" lengthAdjust="spacingAndGlyphs">Li<tspan font-size="10" dy="6">x</tspan><tspan dy="-6">(Ni</tspan><tspan font-size="10" dy="6">0.8</tspan><tspan dy="-6">Co</tspan><tspan font-size="10" dy="6">0.1</tspan><tspan dy="-6">Mn</tspan><tspan font-size="10" dy="6">0.1</tspan><tspan dy="-6">)O</tspan><tspan font-size="10" dy="6">2</tspan></text>
<line x1="661.8" y1="152.4" x2="679.7" y2="143.4" stroke="#111" stroke-width="1.2"/><path d="M687.2,139.6 L680.9,145.8 L678.5,141.0 Z" fill="#111"/>
<circle cx="655.8" cy="156.7" r="5.4" fill="url(#sK)"/>
<text x="675.3" y="135.2" font-size="17.8" fill="#111" textLength="185.5" lengthAdjust="spacingAndGlyphs">Na<tspan font-size="10" dy="6">0.21</tspan><tspan dy="-6">(Ni</tspan><tspan font-size="10" dy="6">0.8</tspan><tspan dy="-6">Co</tspan><tspan font-size="10" dy="6">0.1</tspan><tspan dy="-6">Mn</tspan><tspan font-size="10" dy="6">0.1</tspan><tspan dy="-6">)O</tspan><tspan font-size="10" dy="6">2</tspan></text>
<text x="597.4" y="179.2" font-size="17.8" fill="#111" textLength="185.6" lengthAdjust="spacingAndGlyphs">Na<tspan font-size="10" dy="6">0.37</tspan><tspan dy="-6">(Ni</tspan><tspan font-size="10" dy="6">0.6</tspan><tspan dy="-6">Co</tspan><tspan font-size="10" dy="6">0.2</tspan><tspan dy="-6">Mn</tspan><tspan font-size="10" dy="6">0.2</tspan><tspan dy="-6">)O</tspan><tspan font-size="10" dy="6">2</tspan></text>
<line x1="675.3" y1="213.4" x2="667.7" y2="197.1" stroke="#111" stroke-width="1.2"/><path d="M664.2,189.5 L670.2,196.0 L665.3,198.3 Z" fill="#111"/>
<line x1="693.2" y1="223.9" x2="712.9" y2="213.0" stroke="#111" stroke-width="1.2"/><path d="M720.2,208.9 L714.2,215.3 L711.5,210.6 Z" fill="#111"/>
<circle cx="678.3" cy="220" r="5.4" fill="url(#sK)"/>
<circle cx="685.7" cy="226.3" r="5.4" fill="url(#sK)"/>
<circle cx="689.3" cy="234.4" r="5.4" fill="url(#sK)"/>
<text x="703.7" y="200.8" font-size="17.8" fill="#111" textLength="185.6" lengthAdjust="spacingAndGlyphs">Na<tspan font-size="10" dy="6">0.39</tspan><tspan dy="-6">(Ni</tspan><tspan font-size="10" dy="6">0.5</tspan><tspan dy="-6">Co</tspan><tspan font-size="10" dy="6">0.2</tspan><tspan dy="-6">Mn</tspan><tspan font-size="10" dy="6">0.3</tspan><tspan dy="-6">)O</tspan><tspan font-size="10" dy="6">2</tspan></text>
<circle cx="757.6" cy="215.5" r="5.4" fill="url(#sK)"/>
<text x="765" y="223.9" font-size="17.8" fill="#111" textLength="123.4" lengthAdjust="spacingAndGlyphs">Na<tspan font-size="10" dy="6">x</tspan><tspan dy="-6">Fe</tspan><tspan font-size="10" dy="6">1/3</tspan><tspan dy="-6">Mn</tspan><tspan font-size="10" dy="6">2/3</tspan><tspan dy="-6">O</tspan><tspan font-size="10" dy="6">2</tspan></text>
<text x="621.4" y="253.8" font-size="17.8" fill="#111" textLength="186" lengthAdjust="spacingAndGlyphs">Na<tspan font-size="10" dy="6">0.41</tspan><tspan dy="-6">(Ni</tspan><tspan font-size="10" dy="6">1/3</tspan><tspan dy="-6">Co</tspan><tspan font-size="10" dy="6">1/3</tspan><tspan dy="-6">Mn</tspan><tspan font-size="10" dy="6">1/3</tspan><tspan dy="-6">)O</tspan><tspan font-size="10" dy="6">2</tspan></text>
<circle cx="819" cy="245.7" r="5.4" fill="url(#sK)"/>
<text x="829.4" y="249.3" font-size="17.8" fill="#111" textLength="116.8" lengthAdjust="spacingAndGlyphs">Na<tspan font-size="10" dy="6">x</tspan><tspan dy="-6">Ni</tspan><tspan font-size="10" dy="6">2/3</tspan><tspan dy="-6">Sb</tspan><tspan font-size="10" dy="6">1/3</tspan><tspan dy="-6">O</tspan><tspan font-size="10" dy="6">2</tspan></text>
<circle cx="613.9" cy="271.8" r="5.4" fill="url(#sR)"/>
<text x="621.4" y="279.3" font-size="17.8" fill="#8e1014" textLength="73.3" lengthAdjust="spacingAndGlyphs">Li<tspan font-size="10" dy="6">0.5</tspan><tspan dy="-6">CoO</tspan><tspan font-size="10" dy="6">2</tspan></text>
<circle cx="716.3" cy="288.3" r="5.4" fill="url(#sK)"/>
<text x="686.3" y="307.4" font-size="17.8" fill="#111" textLength="77.3" lengthAdjust="spacingAndGlyphs">Na<tspan font-size="10" dy="6">0.5</tspan><tspan dy="-6">CrO</tspan><tspan font-size="10" dy="6">2</tspan></text>
<line x1="794.3" y1="285.3" x2="816.3" y2="275.4" stroke="#8e1014" stroke-width="1.2"/><path d="M824.0,272.0 L817.4,277.9 L815.2,273.0 Z" fill="#8e1014"/>
<circle cx="785.1" cy="288.3" r="5.4" fill="url(#sR)"/>
<text x="825.5" y="277.8" font-size="17.8" fill="#8e1014" textLength="73.7" lengthAdjust="spacingAndGlyphs">Li<tspan font-size="10" dy="6">0</tspan><tspan dy="-6">FePO</tspan><tspan font-size="10" dy="6">4</tspan></text>
<text x="797.4" y="302.9" font-size="17.8" fill="#8222f2" textLength="79.9" lengthAdjust="spacingAndGlyphs">NaFeP<tspan font-size="10" dy="6">2</tspan><tspan dy="-6">O</tspan><tspan font-size="10" dy="6">7</tspan></text>
<line x1="848.3" y1="317.9" x2="835.1" y2="310.2" stroke="#8222f2" stroke-width="1.2"/><path d="M827.9,305.9 L836.5,307.8 L833.8,312.5 Z" fill="#8222f2"/>
<circle cx="853.4" cy="322.4" r="5.4" fill="url(#sP)"/>
<circle cx="863.2" cy="322.4" r="5.4" fill="url(#sP)"/>
<text x="875.2" y="328.4" font-size="17.8" fill="#8222f2" textLength="79.9" lengthAdjust="spacingAndGlyphs">NaFeP<tspan font-size="10" dy="6">2</tspan><tspan dy="-6">O</tspan><tspan font-size="10" dy="6">7</tspan></text>
<circle cx="682.2" cy="330.8" r="5.4" fill="url(#sK)"/>
<text x="633.4" y="349.3" font-size="17.8" fill="#111" textLength="100.3" lengthAdjust="spacingAndGlyphs"><tspan font-weight="normal" font-size="18">&#945;</tspan>-Na<tspan font-size="10" dy="6">0.58</tspan><tspan dy="-6">FeO</tspan><tspan font-size="10" dy="6">2</tspan></text>
<circle cx="785" cy="330.8" r="5.4" fill="url(#sP)"/>
<text x="748" y="350.6" font-size="17.8" fill="#8222f2" textLength="104.8" lengthAdjust="spacingAndGlyphs">Na<tspan font-size="10" dy="6">3-x</tspan><tspan dy="-6">V</tspan><tspan font-size="10" dy="6">2</tspan><tspan dy="-6">(PO</tspan><tspan font-size="10" dy="6">4</tspan><tspan dy="-6">)</tspan><tspan font-size="10" dy="6">3</tspan></text>
<circle cx="914.7" cy="92.1" r="5.4" fill="url(#sP)"/>
<text x="845.8" y="114" font-size="17.8" fill="#8222f2" textLength="183" lengthAdjust="spacingAndGlyphs">Sodium Terephthalate</text>
<circle cx="1024.5" cy="167.5" r="5.4" fill="url(#sP)"/>
<text x="938.7" y="191.6" font-size="17.8" fill="#8222f2" textLength="84.4" lengthAdjust="spacingAndGlyphs">Na<tspan font-size="10" dy="6">0</tspan><tspan dy="-6">FeSiO</tspan><tspan font-size="10" dy="6">4</tspan></text>
<g id="wm">
<ellipse cx="904" cy="394.6" rx="14.3" ry="12.8" fill="#f6f2f8" fill-opacity="0.93"/>
<path d="M893.5,404 L891.2,410.2 L898.5,406.6 Z" fill="#f6f2f8" fill-opacity="0.93"/>
<circle cx="898" cy="390.4" r="1.9" fill="#222"/><circle cx="910.2" cy="390.4" r="1.9" fill="#222"/>
<path d="M922.6,414.8 L928.3,419.6 L926.6,412.2 Z" fill="#fff" stroke="#8a8a8a" stroke-width="1"/>
<ellipse cx="917.6" cy="405.6" rx="13" ry="11.3" fill="#fff" stroke="#8a8a8a" stroke-width="1.1"/>
<circle cx="913.2" cy="402.4" r="1.5" fill="#fff" stroke="#999" stroke-width="0.9"/><circle cx="922.3" cy="402.4" r="1.5" fill="#fff" stroke="#999" stroke-width="0.9"/>
<g transform="translate(938.8 389.8) scale(1.05)" fill="none" stroke-linecap="round" stroke-linejoin="round"><path d="M6,1 L2,7 L10,7 M8,4 L10,7 M2,10 L2,23 M2,10 L10,10 L10,22 L8,23 M2,14 L10,14 M2,18 L10,18 M14,1 L14,8 Q14,9.5 16,9.5 L21,9.5 Q22.5,9.5 22.5,7.5 M21,3 L14,6 M14,12 L14,21 Q14,22.5 16,22.5 L21,22.5 Q22.5,22.5 22.5,20.5 M21,14.5 L14,17.5" transform="translate(1.1 1.1)" stroke="#3c3c46" stroke-opacity="0.85" stroke-width="2.1"/><path d="M6,1 L2,7 L10,7 M8,4 L10,7 M2,10 L2,23 M2,10 L10,10 L10,22 L8,23 M2,14 L10,14 M2,18 L10,18 M14,1 L14,8 Q14,9.5 16,9.5 L21,9.5 Q22.5,9.5 22.5,7.5 M21,3 L14,6 M14,12 L14,21 Q14,22.5 16,22.5 L21,22.5 Q22.5,22.5 22.5,20.5 M21,14.5 L14,17.5" stroke="#fdfdfd" stroke-width="2.1"/></g>
<g transform="translate(965.6 389.8) scale(1.05)" fill="none" stroke-linecap="round" stroke-linejoin="round"><path d="M1.5,2.5 L4,5 M0.5,8.5 L3,11 M0.5,22.5 L4,15 M7,2 L23.5,2 M8.5,2 L8.5,13 Q8.5,19 5.5,23.5 M16,3.5 L14.5,6.5 M11.5,7 L21,7 L21,14 L11.5,14 Z M11.5,10.5 L21,10.5 M16.2,14 L16.2,22.5 L14,22 M12.5,17 L10,21.5 M19.5,17 L22.5,21.5" transform="translate(1.1 1.1)" stroke="#3c3c46" stroke-opacity="0.85" stroke-width="2.1"/><path d="M1.5,2.5 L4,5 M0.5,8.5 L3,11 M0.5,22.5 L4,15 M7,2 L23.5,2 M8.5,2 L8.5,13 Q8.5,19 5.5,23.5 M16,3.5 L14.5,6.5 M11.5,7 L21,7 L21,14 L11.5,14 Z M11.5,10.5 L21,10.5 M16.2,14 L16.2,22.5 L14,22 M12.5,17 L10,21.5 M19.5,17 L22.5,21.5" stroke="#fdfdfd" stroke-width="2.1"/></g>
<g transform="translate(991.2 389.8) scale(1.05)" fill="none" stroke-linecap="round" stroke-linejoin="round"><path d="M5,0.5 L7,4.5 M11.5,0 L13,4 M20,0.5 L17,5 M2,10.5 L2,7 L22,7 L21,10.5 M6.5,11 L18,11 L12.5,15 M12.5,15 L12.5,22 Q12.5,23.5 9,22.5 M1,17 L23.5,17" transform="translate(1.1 1.1)" stroke="#3c3c46" stroke-opacity="0.85" stroke-width="2.1"/><path d="M5,0.5 L7,4.5 M11.5,0 L13,4 M20,0.5 L17,5 M2,10.5 L2,7 L22,7 L21,10.5 M6.5,11 L18,11 L12.5,15 M12.5,15 L12.5,22 Q12.5,23.5 9,22.5 M1,17 L23.5,17" stroke="#fdfdfd" stroke-width="2.1"/></g>
<g transform="translate(1018.2 389.8) scale(1.05)" fill="none" stroke-linecap="round" stroke-linejoin="round"><path d="M12,0.5 Q12,12 1.5,23.5 M12,8 Q15,19 23.5,23.5" transform="translate(1.1 1.1)" stroke="#3c3c46" stroke-opacity="0.85" stroke-width="2.1"/><path d="M12,0.5 Q12,12 1.5,23.5 M12,8 Q15,19 23.5,23.5" stroke="#fdfdfd" stroke-width="2.1"/></g>
</g>
</g>
</svg>
</body></html>
